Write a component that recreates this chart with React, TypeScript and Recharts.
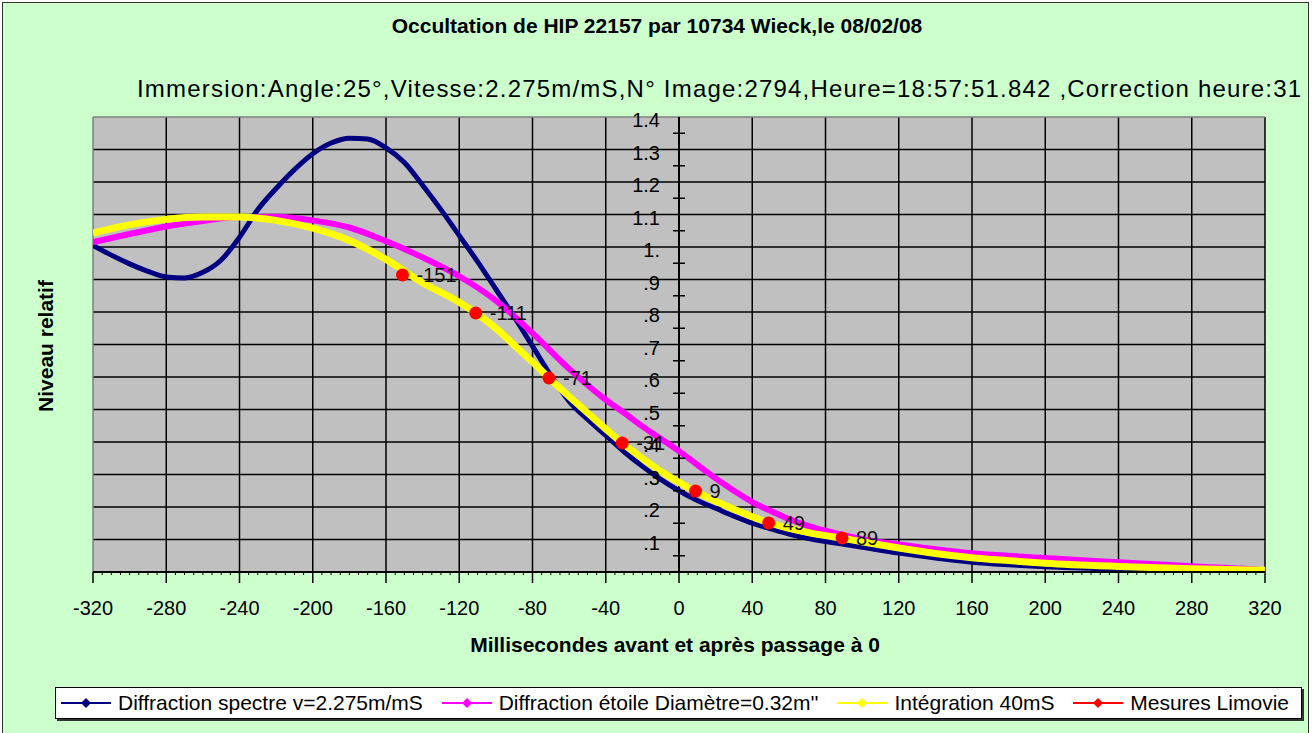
import React from 'react';
import { LineChart, Line, XAxis, YAxis, CartesianGrid, ReferenceLine, ReferenceDot, LabelList } from 'recharts';

const FONT = "Arial, 'Liberation Sans', sans-serif";

const TITLE = 'Occultation de HIP 22157 par 10734 Wieck,le 08/02/08';
const SUBTITLE = 'Immersion:Angle:25°,Vitesse:2.275m/mS,N° Image:2794,Heure=18:57:51.842 ,Correction heure:31';
const X_TITLE = 'Millisecondes avant et après passage à 0';
const Y_TITLE = 'Niveau relatif';

// Diffraction spectre v=2.275m/mS
const spectreX = [-320, -310, -300, -290, -280, -270, -260, -250, -240, -230, -220, -210, -200, -190, -180, -170, -160, -150, -140, -130, -120, -110, -100, -90, -80, -70, -60, -50, -40, -30, -20, -10, 0, 10, 20, 30, 40, 50, 60, 70, 80, 90, 100, 120, 140, 160, 180, 200, 220, 240, 270, 305];
const spectreY = [1.005, 0.975, 0.948, 0.925, 0.908, 0.905, 0.922, 0.96, 1.03, 1.115, 1.18, 1.238, 1.287, 1.32, 1.335, 1.332, 1.305, 1.26, 1.19, 1.115, 1.035, 0.955, 0.87, 0.785, 0.695, 0.605, 0.525, 0.47, 0.42, 0.37, 0.325, 0.285, 0.25, 0.22, 0.196, 0.172, 0.15, 0.133, 0.117, 0.104, 0.094, 0.085, 0.076, 0.058, 0.043, 0.03, 0.022, 0.016, 0.012, 0.008, 0.004, 0.001];

// Diffraction étoile Diamètre=0.32m''
const etoileX = [-320, -300, -280, -260, -240, -220, -200, -180, -160, -140, -120, -100, -80, -60, -40, -30, -20, -10, 0, 10, 20, 30, 40, 50, 60, 70, 80, 90, 100, 120, 140, 160, 180, 200, 220, 240, 260, 280, 300, 315, 320];
const etoileY = [1.015, 1.04, 1.063, 1.08, 1.092, 1.093, 1.082, 1.06, 1.018, 0.968, 0.91, 0.835, 0.735, 0.625, 0.53, 0.49, 0.448, 0.41, 0.372, 0.33, 0.288, 0.25, 0.215, 0.188, 0.163, 0.143, 0.127, 0.113, 0.101, 0.085, 0.07, 0.058, 0.05, 0.043, 0.036, 0.03, 0.024, 0.018, 0.012, 0.008, 0.003];

// Intégration 40mS
const integX = [-320, -300, -280, -260, -240, -220, -200, -180, -160, -140, -120, -100, -90, -80, -70, -60, -50, -40, -30, -20, -10, 0, 10, 20, 30, 40, 50, 60, 70, 80, 90, 100, 120, 140, 160, 180, 200, 240, 280, 320];
const integY = [1.043, 1.068, 1.085, 1.092, 1.092, 1.082, 1.058, 1.02, 0.962, 0.89, 0.83, 0.75, 0.698, 0.646, 0.592, 0.54, 0.49, 0.44, 0.392, 0.35, 0.31, 0.276, 0.245, 0.218, 0.193, 0.17, 0.15, 0.134, 0.122, 0.112, 0.103, 0.093, 0.074, 0.057, 0.044, 0.035, 0.027, 0.017, 0.01, 0.005];

// Mesures Limovie
const mesuresX = [-151, -111, -71, -31, 9, 49, 89];
const mesuresY = [0.914, 0.797, 0.597, 0.397, 0.249, 0.151, 0.105];
const mesuresLabels = ['-151', '-111', '-71', '-31', '9', '49', '89'];

const xMajorTicks = [-320, -280, -240, -200, -160, -120, -80, -40, 0, 40, 80, 120, 160, 200, 240, 280, 320];
const xAllTicks = Array.from({ length: 129 }, (_, i) => -320 + i * 5);
const yGridValues = [0.1, 0.2, 0.3, 0.4, 0.5, 0.6, 0.7, 0.8, 0.9, 1.0, 1.1, 1.2, 1.3];
const yLabelValues = [1.4, 1.3, 1.2, 1.1, 1.0, 0.9, 0.8, 0.7, 0.6, 0.5, 0.4, 0.3, 0.2, 0.1];
const yLabelTexts = ['1.4', '1.3', '1.2', '1.1', '1.', '.9', '.8', '.7', '.6', '.5', '.4', '.3', '.2', '.1'];
const yMinorTicks = [0.05, 0.15, 0.25, 0.35, 0.45, 0.55, 0.65, 0.75, 0.85, 0.95, 1.05, 1.15, 1.25, 1.35];
const xGridValues = [-280, -240, -200, -160, -120, -80, -40, 40, 80, 120, 160, 200, 240, 280, 320];

const COLORS = { spectre: '#000080', etoile: '#FF00FF', integ: '#FFFF00', mesures: '#FF0000' };

const legendItems = [
  { name: 'Diffraction spectre v=2.275m/mS', color: COLORS.spectre },
  { name: "Diffraction étoile Diamètre=0.32m''", color: COLORS.etoile },
  { name: 'Intégration 40mS', color: COLORS.integ },
  { name: 'Mesures Limovie', color: COLORS.mesures },
];

const zip = (xs: number[], ys: number[]) => xs.map((x, i) => ({ x, y: ys[i] }));
const spectreData = zip(spectreX, spectreY);
const etoileData = zip(etoileX, etoileY);
const integData = zip(integX, integY);
const mesuresData = mesuresX.map((x, i) => ({ x, y: mesuresY[i], label: mesuresLabels[i] }));

const XTick = (props: any) => {
  const { x, y, payload } = props;
  const v = payload.value;
  const major = v % 40 === 0;
  return (
    <g>
      <line x1={x} x2={x} y1={y} y2={y + (major ? 11 : 3)} stroke="#000" strokeWidth={major ? 1.5 : 1} />
      {major && (
        <text x={x} y={y + 36} textAnchor="middle" dominantBaseline="central" fontSize={20} fontFamily={FONT} fill="#000">
          {String(v)}
        </text>
      )}
    </g>
  );
};

const LegendIcon = ({ color }: { color: string }) => (
  <svg width={50} height={20} style={{ display: 'block' }}>
    <line x1={0} x2={50} y1={10} y2={10} stroke={color} strokeWidth={2} />
    <polygon points="25,5 30,10 25,15 20,10" fill={color} />
  </svg>
);

export default function App() {
  return (
    <div style={{ position: 'absolute', left: 0, top: 0, width: 1314, height: 733, background: '#fff', overflow: 'hidden', fontFamily: FONT }}>
      <div style={{ position: 'absolute', left: 2, top: 2, width: 1305, height: 760, background: '#CCFFCC', border: '1.5px solid #333' }} />
      <div style={{ position: 'absolute', left: 0, top: 14, width: 1314, textAlign: 'center', fontSize: 21, lineHeight: '24px', fontWeight: 'bold', color: '#000' }}>{TITLE}</div>
      <div style={{ position: 'absolute', left: 137, top: 75, width: 1170, overflow: 'hidden', whiteSpace: 'nowrap', fontSize: 24, lineHeight: '28px', letterSpacing: '1.2px', color: '#000' }}>{SUBTITLE}</div>
      <div style={{ position: 'absolute', left: 0, top: 633, width: 1350, textAlign: 'center', fontSize: 21, lineHeight: '24px', fontWeight: 'bold', color: '#000' }}>{X_TITLE}</div>
      <div style={{ position: 'absolute', left: 46 - 100, top: 346 - 12, width: 200, height: 24, textAlign: 'center', fontSize: 21, lineHeight: '24px', fontWeight: 'bold', color: '#000', transform: 'rotate(-90deg)', transformOrigin: '50% 50%' }}>{Y_TITLE}</div>
      <div style={{ position: 'absolute', left: 0, top: 0 }}>
        <LineChart width={1314} height={733} margin={{ top: 117, right: 49, bottom: 121, left: 93 }}>
          <CartesianGrid fill="#C0C0C0" stroke="#000" strokeWidth={1.5} horizontalValues={yGridValues} verticalValues={xGridValues} />
          <XAxis dataKey="x" type="number" domain={[-320, 320]} ticks={xAllTicks} interval={0} height={40} tickSize={0} tickMargin={0} tickLine={false} axisLine={{ stroke: '#000', strokeWidth: 2 }} tick={<XTick />} allowDataOverflow />
          <YAxis type="number" domain={[0, 1.4]} hide allowDataOverflow />
          <ReferenceLine x={-320} stroke="#808080" strokeWidth={1.5} />
          <ReferenceLine y={1.4} stroke="#808080" strokeWidth={1.5} />
          <ReferenceLine x={0} stroke="#000" strokeWidth={2} />
          <Line data={spectreData} dataKey="y" type="monotone" stroke={COLORS.spectre} strokeWidth={5} dot={false} isAnimationActive={false} />
          <Line data={etoileData} dataKey="y" type="monotone" stroke={COLORS.etoile} strokeWidth={6} dot={false} isAnimationActive={false} />
          <Line data={integData} dataKey="y" type="monotone" stroke={COLORS.integ} strokeWidth={7} dot={false} isAnimationActive={false} />
          <Line data={mesuresData} dataKey="y" stroke="none" dot={{ r: 6.5, fill: COLORS.mesures, stroke: 'none' }} isAnimationActive={false}>
            <LabelList dataKey="label" position="right" offset={14} fontSize={20} fontFamily={FONT} fill="#111" />
          </Line>
          {yMinorTicks.map((v) => (
            <ReferenceDot key={'m' + v} x={0} y={v} r={1} shape={(p: any) => <line x1={p.cx - 6} x2={p.cx + 6} y1={p.cy} y2={p.cy} stroke="#000" strokeWidth={1.5} />} />
          ))}
          {yLabelValues.map((v, i) => (
            <ReferenceDot key={'l' + v} x={0} y={v} r={1} shape={(p: any) => (
              <text x={p.cx - 19} y={p.cy + 3} textAnchor="end" dominantBaseline="central" fontSize={20} fontFamily={FONT} fill="#000">{yLabelTexts[i]}</text>
            )} />
          ))}
        </LineChart>
      </div>
      <div style={{ position: 'absolute', left: 55, top: 687, width: 1247, height: 32, boxSizing: 'border-box', background: '#fff', border: '1.5px solid #000', boxShadow: '2px 2px 0 #333', display: 'flex', alignItems: 'center', justifyContent: 'space-between', padding: '0 12px 0 5px' }}>
        {legendItems.map((it) => (
          <div key={it.name} style={{ display: 'flex', alignItems: 'center' }}>
            <LegendIcon color={it.color} />
            <span style={{ marginLeft: 7, fontSize: 21, lineHeight: '24px', color: '#000', whiteSpace: 'nowrap' }}>{it.name}</span>
          </div>
        ))}
      </div>
    </div>
  );
}
